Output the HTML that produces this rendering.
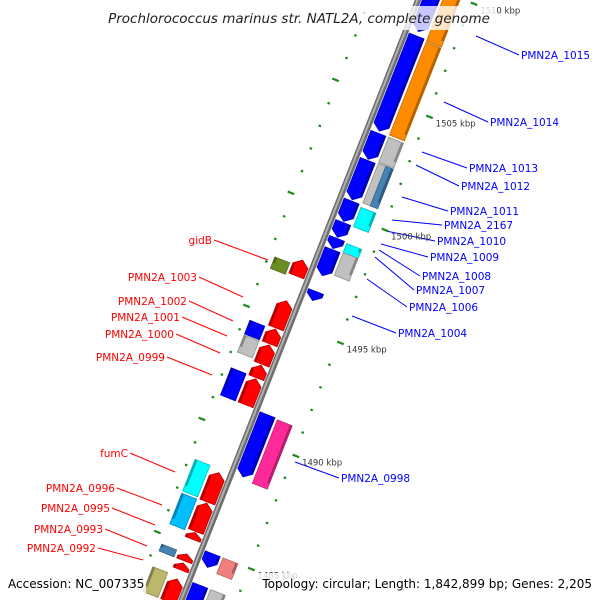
<!DOCTYPE html>
<html><head><meta charset="utf-8"><style>
html,body{margin:0;padding:0;background:#fff;width:600px;height:600px;overflow:hidden;}
svg{display:block;font-family:"DejaVu Sans","Liberation Sans",sans-serif;overflow:hidden;}
</style></head><body>
<svg id="map" width="600" height="600" viewBox="0 0 600 600">
<defs><clipPath id="frame"><rect x="0" y="0" width="600" height="600"/></clipPath></defs>
<g clip-path="url(#frame)">
<g id="labels"></g>
<g id="local" transform="translate(418,0) rotate(21.5)"></g>
<g id="ticklabels"></g>
<g id="overlay"></g>
</g>
</svg>
<script>
// ---- data ----
const featStart = [1511,1507.9,1503.6,1502.4,1500.6,1499.65,1498.95,1498.45,1496.6,1491.15,1485.0,1483.6,
  1511,1507.8,1503.6,1502.45,1502.45,1500.5,1498.9,1498.5,1491.1,1485.0,1483.6,
  1497.6,1495.8,1494.55,1493.85,1492.95,1492.35,1488.2,1486.85,1485.55,1484.6,1484.2,1483.5,
  1497.3,1494.5,1493.85,1492.4,1488.35,1486.85,1484.6,1483.6];
const featEnd = [1508.1,1503.7,1502.45,1500.66,1499.7,1499.0,1498.5,1497.3,1496.2,1488.4,1484.4,1482.5,
  1507.85,1503.7,1502.5,1500.7,1500.7,1499.65,1498.5,1497.5,1488.3,1484.3,1482.5,
  1496.9,1494.6,1493.9,1493.0,1492.4,1491.2,1486.9,1485.6,1485.25,1484.3,1483.9,1482.5,
  1496.8,1493.9,1493.1,1491.2,1486.95,1485.5,1484.3,1482.5];
const featTrack = [1,1,1,1,1,1,1,1,1,1,1,1,
  2,2,2,2,3,2,2,2,2,2,2,
  -1,-1,-1,-1,-1,-1,-1,-1,-1,-1,-1,-1,
  -2,-2,-2,-2,-2,-2,-2,-2];
const featColor = ['#0000ff','#0000ff','#0000ff','#0000ff','#0000ff','#0000ff','#0000ff','#0000ff','#0000ff','#0000ff','#0000ff','#0000ff',
  '#ff8c00','#ff8c00','#c0c0c0','#c0c0c0','#4682b4','#00ffff','#00ffff','#c0c0c0','#ff2a9a','#f08080','#c0c0c0',
  '#ff0000','#ff0000','#ff0000','#ff0000','#ff0000','#ff0000','#ff0000','#ff0000','#ff0000','#ff0000','#ff0000','#ff0000',
  '#6b8e23','#0000ff','#c0c0c0','#0000ff','#00ffff','#00bfff','#4682b4','#bdb76b'];
const majorTicks = [1510,1505,1500,1495,1490,1485];
const tickLabels = ['1510 kbp','1505 kbp','1500 kbp','1495 kbp','1490 kbp','1485 kbp'];
const minorFrom = 1483, minorTo = 1512;

// ---- scale ----
function Y(k){ return 104.5 + (1505 - k) * 24.3; }
const NS='http://www.w3.org/2000/svg';
function mk(tag, attrs, parent){ const e=document.createElementNS(NS,tag); for(const k in attrs) e.setAttribute(k,attrs[k]); parent.appendChild(e); return e; }
function toGlobal(lx,ly){ const a=21.5*Math.PI/180; return [418+lx*Math.cos(a)-ly*Math.sin(a), lx*Math.sin(a)+ly*Math.cos(a)]; }
function shade(hex,f){ const n=parseInt(hex.slice(1),16); let r=(n>>16)&255,g=(n>>8)&255,b=n&255; r=Math.round(r*f);g=Math.round(g*f);b=Math.round(b*f); return 'rgb('+r+','+g+','+b+')'; }

const L=document.getElementById('local');
for(let k=minorFrom;k<=minorTo;k++){
  const maj = k%5===0, y=Y(k), len = maj?7:2.5;
  const t1=mk('line',{x1:50,y1:y,x2:50+len,y2:y,stroke:'#1a8a1a','stroke-width':2.2},L);
  
  
  const t2=mk('line',{x1:-44,y1:y,x2:-44-len,y2:y,stroke:'#1a8a1a','stroke-width':2.2},L);
  
  
}
const bb=mk('line',{x1:0,y1:-20,x2:0,y2:650,stroke:'#6e6e6e','stroke-width':6},L);


mk('line',{x1:-0.5,y1:-20,x2:-0.5,y2:650,stroke:'#b0b0b0','stroke-width':2},L);

const trackX = {1:[4,20],2:[23,39],3:[31,39],'-1':[-20,-4],'-2':[-39,-23]};
for(let i=0;i<featStart.length;i++){
  const y1=Y(featStart[i]), y2=Y(featEnd[i]), tr=featTrack[i];
  const [xa,xb]=trackX[tr]; const c=featColor[i];
  let pts;
  const tip=Math.min(6,(y2-y1)*0.6);
  if(tr===1){ pts=[[xa,y1],[xb,y1],[xb,y2-tip],[(xa+xb)/2,y2],[xa,y2-tip]]; }
  else if(tr===-1){ pts=[[xa,y1+tip],[(xa+xb)/2,y1],[xb,y1+tip],[xb,y2],[xa,y2]]; }
  else { pts=[[xa,y1],[xb,y1],[xb,y2],[xa,y2]]; }
  const p=mk('polygon',{points:pts.map(q=>q.join(',')).join(' '),fill:c,stroke:shade(c,0.75),'stroke-width':0.8},L);
  
  
  const ex = tr>0 ? xb-2.5 : xa;
  mk('rect',{x:ex,y:y1+(tr===-1?tip:0),width:2.5,height:Math.max(0,y2-y1-tip),fill:shade(c,0.7)},L);
}
const TL=document.getElementById('ticklabels');
majorTicks.forEach((k,i)=>{
  const g=toGlobal(58,Y(k));
  const t=mk('text',{x:g[0]+2,y:g[1]+8,'font-size':8.5,fill:'#333'},TL);
  t.textContent=tickLabels[i];
  
  
});

const LB=document.getElementById('labels');
const rightLabels=[['PMN2A_1015',521,59,476,36],['PMN2A_1014',490,126,444,102],['PMN2A_1013',469,172,422,152],['PMN2A_1012',461,190,416,165],['PMN2A_1011',450,215,402,197],['PMN2A_2167',444,229,392,220],['PMN2A_1010',437,245,386,231],['PMN2A_1009',430,261,381,244],['PMN2A_1008',422,280,379,250],['PMN2A_1007',416,294,375,257],['PMN2A_1006',409,311,367,279],['PMN2A_1004',398,337,352,316],['PMN2A_0998',341,482,295,462]];
rightLabels.forEach(r=>{
  mk('line',{x1:r[3],y1:r[4],x2:r[1]-2,y2:r[2]-4,stroke:'#0000ff','stroke-width':1},LB);
  const t=mk('text',{x:r[1],y:r[2],'font-size':10.5,fill:'#0000ff'},LB);
  t.textContent=r[0];
  
  
});
const leftLabels=[['gidB',212,244,268,260],['PMN2A_1003',197,281,243,297],['PMN2A_1002',187,305,233,321],['PMN2A_1001',180,321,227,336],['PMN2A_1000',174,338,220,353],['PMN2A_0999',165,361,212,375],['fumC',128,457,175,472],['PMN2A_0996',115,492,162,505],['PMN2A_0995',110,512,155,525],['PMN2A_0993',103,533,147,546],['PMN2A_0992',96,552,143,560]];
leftLabels.forEach(r=>{
  mk('line',{x1:r[1]+2,y1:r[2]-4,x2:r[3],y2:r[4],stroke:'#ff0000','stroke-width':1},LB);
  const t=mk('text',{x:r[1],y:r[2],'font-size':10.5,fill:'#ff0000','text-anchor':'end'},LB);
  t.textContent=r[0];
  
  
});

const O=document.getElementById('overlay');
mk('rect',{x:100,y:6,width:396,height:24,fill:'rgba(255,255,255,0.78)'},O);
const titleText=mk('text',{x:299,y:23,'font-size':13.5,'font-style':'italic','text-anchor':'middle',fill:'#222'},O);
titleText.textContent='Prochlorococcus marinus str. NATL2A, complete genome';


mk('rect',{x:4,y:573,width:142,height:20,fill:'rgba(255,255,255,0.8)'},O);
mk('rect',{x:258,y:573,width:338,height:20,fill:'rgba(255,255,255,0.8)'},O);
const accText=mk('text',{x:8,y:588,'font-size':12,fill:'#000'},O);
accText.textContent='Accession: NC_007335';


const topoText=mk('text',{x:592,y:588,'font-size':12,fill:'#000','text-anchor':'end'},O);
topoText.textContent='Topology: circular; Length: 1,842,899 bp; Genes: 2,205';


</script>
</body></html>
